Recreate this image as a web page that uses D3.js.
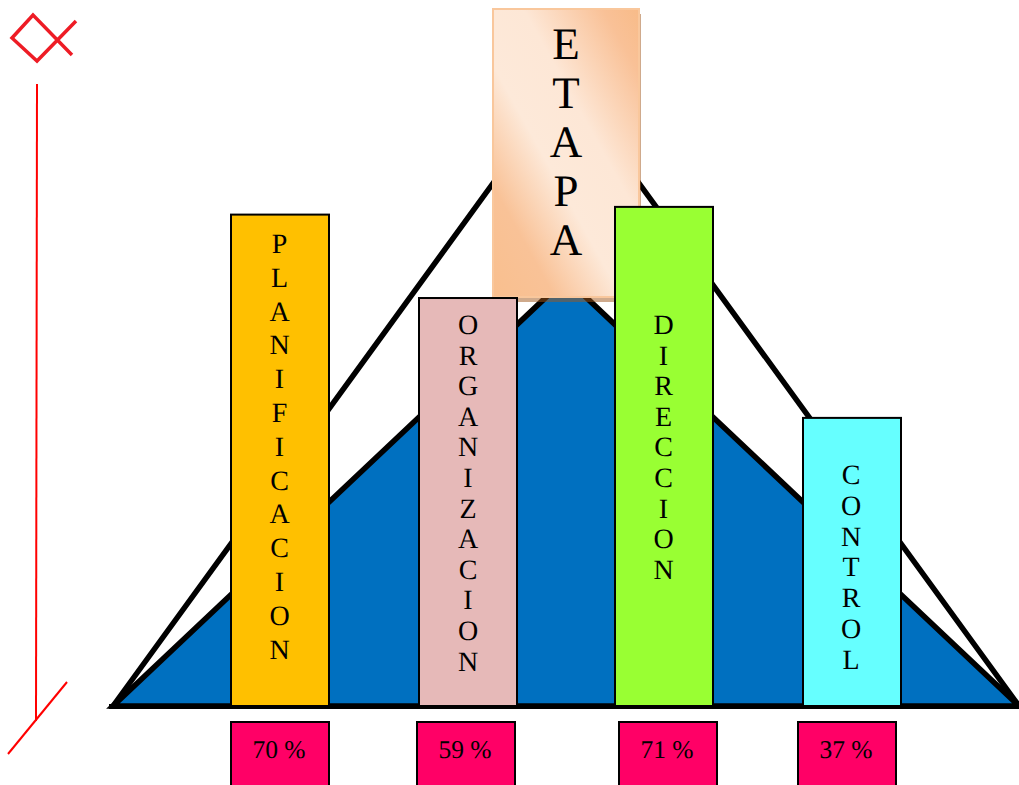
<!DOCTYPE html>
<html>
<head>
<meta charset="utf-8">
<script src="https://cdn.jsdelivr.net/npm/d3@7"></script>
<style>
  html, body { margin: 0; padding: 0; background: #fff; overflow: hidden; }
  text { font-family: "Liberation Serif", serif; fill: #000; text-rendering: geometricPrecision; }
</style>
</head>
<body>
<script>
// values
const categories = ["PLANIFICACION", "ORGANIZACION", "DIRECCION", "CONTROL"];
const barHeights = [70.1, 58.2, 71.2, 41.1];
const percentLabels = ["70 %", "59 %", "71 %", "37 %"];
const barColors = ["#ffc000", "#e6b9b8", "#99ff33", "#66ffff"];
const outerPeak = 88.9;
const innerPeak = 61;
const titleLetters = "ETAPA".split("");

const width = 1019, height = 785;
const baseY = 706;

const y = d3.scaleLinear().domain([0, 100]).range([baseY, baseY - 701]);
const x = d3.scaleLinear().domain([0, 1]).range([113, 1019]);
const barX = d3.scaleOrdinal().domain(categories).range([231, 419, 615, 803]);
const labelX = d3.scaleOrdinal().domain(categories).range([231, 417, 619, 798]);
const letterX = d3.scaleOrdinal().domain(categories).range([279.5, 468, 663.5, 851]);
const letterStart = d3.scaleOrdinal().domain(categories).range([244, 325, 325, 475]);
const letterStep = d3.scaleOrdinal().domain(categories).range([33.8, 30.6, 30.6, 30.8]);
const barW = 98;

const svg = d3.select("body").append("svg")
  .attr("width", width)
  .attr("height", height)
  .style("display", "block");

const defs = svg.append("defs");
const grad = defs.append("linearGradient")
  .attr("id", "etapa")
  .attr("gradientUnits", "userSpaceOnUse")
  .attr("x1", 449).attr("y1", 217)
  .attr("x2", 683).attr("y2", 87);
grad.append("stop").attr("offset", "0").attr("stop-color", "#f9bf8e");
grad.append("stop").attr("offset", "0.2").attr("stop-color", "#f9c297");
grad.append("stop").attr("offset", "0.42").attr("stop-color", "#fde9d9");
grad.append("stop").attr("offset", "0.62").attr("stop-color", "#fde7d6");
grad.append("stop").attr("offset", "0.88").attr("stop-color", "#f9c197");
grad.append("stop").attr("offset", "1").attr("stop-color", "#f8bb88");

const line = d3.line();

// outer triangle
svg.append("path")
  .attr("d", line([[x(0), y(0)], [x(0.5), y(outerPeak)], [x(1), y(0)]]))
  .attr("fill", "none")
  .attr("stroke", "#000")
  .attr("stroke-width", 5.5);

// inner blue triangle
svg.append("path")
  .attr("d", line([[x(0), y(0)], [x(0.5), y(innerPeak)], [x(1), y(0)]]) + "Z")
  .attr("fill", "#0070c0")
  .attr("stroke", "#000")
  .attr("stroke-width", 5.5);

// base line
svg.append("line")
  .attr("x1", 109).attr("x2", width)
  .attr("y1", baseY + 0.5).attr("y2", baseY + 0.5)
  .attr("stroke", "#000")
  .attr("stroke-width", 5);

// ETAPA box
svg.append("rect")
  .attr("x", 494).attr("y", 14)
  .attr("width", 147).attr("height", 288)
  .attr("fill", "#a0561a")
  .attr("opacity", 0.5);
svg.append("rect")
  .attr("x", 493).attr("y", 9)
  .attr("width", 146).attr("height", 288)
  .attr("fill", "url(#etapa)")
  .attr("stroke", "#f9c79c")
  .attr("stroke-width", 2);
svg.selectAll(".title")
  .data(titleLetters)
  .enter()
  .append("text")
  .attr("class", "title")
  .attr("x", 566)
  .attr("y", (d, i) => 58.5 + i * 49.2)
  .attr("text-anchor", "middle")
  .attr("font-size", 45)
  .text(d => d);

// bars
svg.selectAll(".bar")
  .data(categories)
  .enter()
  .append("rect")
  .attr("class", "bar")
  .attr("x", d => barX(d))
  .attr("y", (d, i) => y(barHeights[i]))
  .attr("width", barW)
  .attr("height", (d, i) => y(0) - y(barHeights[i]))
  .attr("fill", (d, i) => barColors[i])
  .attr("stroke", "#000")
  .attr("stroke-width", 2);

// vertical letters
categories.forEach(c => {
  svg.selectAll(".l-" + c)
    .data(c.split(""))
    .enter()
    .append("text")
    .attr("class", "l-" + c)
    .attr("x", letterX(c))
    .attr("y", (d, i) => letterStart(c) + i * letterStep(c) + 9)
    .attr("text-anchor", "middle")
    .attr("font-size", 28)
    .text(d => d);
});

// percent boxes
svg.selectAll(".pct")
  .data(categories)
  .enter()
  .append("rect")
  .attr("class", "pct")
  .attr("x", d => labelX(d))
  .attr("y", 722)
  .attr("width", barW)
  .attr("height", 70)
  .attr("fill", "#ff0066")
  .attr("stroke", "#000")
  .attr("stroke-width", 2);
svg.selectAll(".pct-text")
  .data(categories)
  .enter()
  .append("text")
  .attr("class", "pct-text")
  .attr("x", d => labelX(d) + barW / 2 - 1)
  .attr("y", 758)
  .attr("text-anchor", "middle")
  .attr("font-size", 25.5)
  .text((d, i) => percentLabels[i]);

// red hand drawn marks
const redMarks = svg.append("g")
  .attr("fill", "none")
  .attr("stroke", "#ee1c25")
  .attr("stroke-width", 3.5);
redMarks.append("path")
  .attr("d", line([[76, 21], [37, 61], [12, 38], [33, 15], [72, 55]]));
redMarks.append("path")
  .attr("stroke", "#ff0000")
  .attr("stroke-width", 2)
  .attr("d", line([[37, 84], [36, 721]]));
redMarks.append("path")
  .attr("stroke", "#ff0000")
  .attr("stroke-width", 2)
  .attr("d", line([[8, 754], [67, 682]]));
</script>
</body>
</html>
